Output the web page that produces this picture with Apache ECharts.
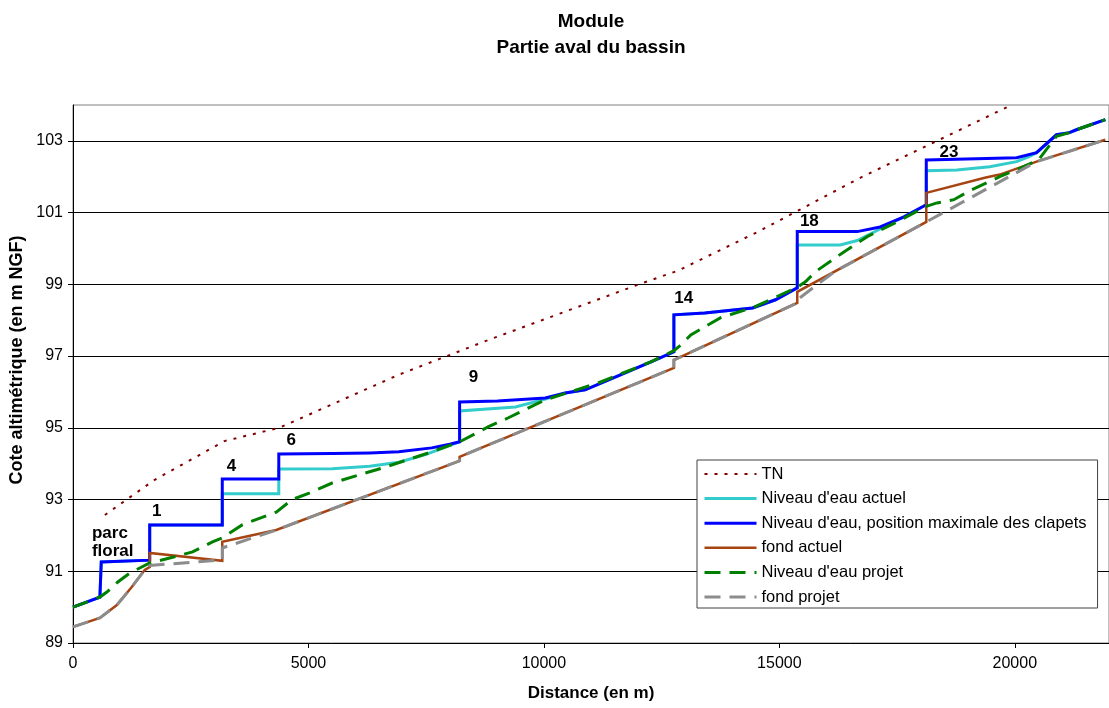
<!DOCTYPE html>
<html>
<head>
<meta charset="utf-8">
<script src="https://cdn.jsdelivr.net/npm/echarts@6/dist/echarts.min.js"></script>
<style>
  html, body { margin: 0; padding: 0; background: #fff; }
  #chart { width: 1109px; height: 708px; }
</style>
</head>
<body>
<div id="chart"></div>
<script>
// Profil en long : distance (m) / cote (m NGF)
const seriesNames = [
  'TN',
  "Niveau d'eau actuel",
  "Niveau d'eau, position maximale des clapets",
  'fond actuel',
  "Niveau d'eau projet",
  'fond projet'
];

const tn = [
  [677, 92.57], [1735, 93.55], [3216, 94.63], [4380, 95.0], [6919, 96.48],
  [8824, 97.45], [11998, 98.99], [12844, 99.38], [14537, 100.46],
  [16716, 101.97], [19930, 104.0]
];

const niveauActuel = [
  [0, 90.0], [571, 90.28], [600, 90.3], [600, 91.26], [1629, 91.31],
  [1629, 92.29], [3170, 92.29], [3170, 93.16], [4370, 93.16], [4370, 93.85],
  [5502, 93.86], [6300, 93.93], [6919, 94.04], [7500, 94.26], [7977, 94.5],
  [8210, 94.61], [8210, 95.47], [9395, 95.58], [10030, 95.8], [10453, 95.97],
  [10876, 96.06], [11638, 96.48], [12273, 96.84], [12760, 97.12],
  [12760, 98.15], [13415, 98.2], [14431, 98.34], [14918, 98.57], [15380, 98.9],
  [15380, 100.1], [16293, 100.1], [16653, 100.22], [17076, 100.5],
  [17351, 100.7], [17647, 100.88], [18120, 101.22], [18120, 102.17],
  [18769, 102.19], [19467, 102.28], [20039, 102.42], [20314, 102.57],
  [20462, 102.67], [20885, 103.17], [21160, 103.23], [21308, 103.31],
  [21922, 103.59]
];

const niveauMax = [
  [0, 90.0], [571, 90.28], [600, 90.3], [600, 91.26], [1629, 91.31],
  [1629, 92.29], [3170, 92.29], [3170, 93.57], [4370, 93.57], [4370, 94.27],
  [5500, 94.28], [6300, 94.3], [6919, 94.33], [7618, 94.44], [8000, 94.54],
  [8210, 94.61], [8210, 95.72], [9015, 95.75], [10030, 95.83],
  [10453, 95.97], [10876, 96.06], [11638, 96.48], [12273, 96.84],
  [12760, 97.12], [12760, 98.15], [13415, 98.2], [14431, 98.34],
  [14918, 98.57], [15380, 98.9], [15380, 100.47], [16653, 100.47],
  [17140, 100.6], [17647, 100.88], [18120, 101.22], [18120, 102.47],
  [20039, 102.53], [20462, 102.67], [20885, 103.17], [21160, 103.23],
  [21308, 103.31], [21922, 103.59]
];

const fondActuel = [
  [0, 89.45], [571, 89.7], [931, 90.06], [1248, 90.56], [1524, 91.04],
  [1629, 91.12], [1629, 91.51], [3170, 91.29], [3170, 91.82], [4317, 92.15],
  [8210, 94.08], [8210, 94.19], [12760, 96.67], [12760, 96.89],
  [15380, 98.48], [15380, 98.79], [18120, 100.74], [18120, 101.55],
  [19362, 101.97], [19679, 102.06], [20462, 102.42], [21922, 103.03]
];

const niveauProjet = [
  [0, 90.0], [571, 90.28], [719, 90.42], [952, 90.7], [1206, 90.95],
  [1629, 91.23], [2053, 91.37], [2539, 91.54], [2962, 91.82], [3170, 91.93],
  [3600, 92.3], [4317, 92.65], [4655, 93.0], [5015, 93.18], [5502, 93.46],
  [6644, 93.91], [7618, 94.33], [8210, 94.61], [8824, 95.03], [9247, 95.28],
  [10030, 95.78], [11151, 96.25], [12273, 96.84], [12760, 97.15],
  [12908, 97.31], [13119, 97.59], [13754, 98.07], [14473, 98.37],
  [15380, 98.92], [15553, 99.07], [15764, 99.35], [16378, 99.91],
  [16865, 100.33], [17499, 100.74], [18093, 101.16], [18346, 101.27],
  [18705, 101.36], [19086, 101.64], [19679, 102.0], [20187, 102.28],
  [20504, 102.47], [20885, 103.13], [21160, 103.23], [21308, 103.31],
  [21922, 103.59]
];

const fondProjet = [
  [0, 89.45], [571, 89.7], [931, 90.06], [1248, 90.56], [1524, 91.04],
  [1629, 91.16], [3170, 91.32], [3170, 91.65], [4317, 92.15],
  [8210, 94.08], [8210, 94.19], [12760, 96.67], [12760, 96.89],
  [15380, 98.48], [15380, 98.57], [16166, 99.35], [18120, 100.74],
  [20462, 102.42], [21922, 103.03]
];

// Numéros des seuils : [distance, cote, texte]
const seuilLabels = [
  [1777, 92.68, '1'], [3364, 93.94, '4'], [4634, 94.66, '6'],
  [8506, 96.42, '9'], [12971, 98.62, '14'], [15637, 100.77, '18'],
  [18600, 102.67, '23']
];
const parcFloral = [[402, 91.82, 'parc\nfloral']];

const FONT = "'Liberation Sans', Arial, sans-serif";

const lineSeries = (name, data, color, width, type) => ({
  name: name,
  type: 'line',
  data: data,
  showSymbol: false,
  symbol: 'none',
  lineStyle: { color: color, width: width, type: type, cap: 'butt', join: 'miter' },
  // no marker: keeps the legend key a plain line
  itemStyle: { color: 'rgba(0,0,0,0)', opacity: 0 },
  emphasis: { disabled: true },
  animation: false
});

const textSeries = (name, data, extraLabel) => ({
  name: name,
  type: 'scatter',
  data: data,
  symbolSize: 0,
  silent: true,
  animation: false,
  itemStyle: { opacity: 1 },
  label: Object.assign({
    show: true, position: 'inside',
    formatter: p => p.value[2],
    fontFamily: FONT, fontSize: 17, fontWeight: 'bold', color: '#000', opacity: 1
  }, extraLabel || {}),
  z: 5
});

const chart = echarts.init(document.getElementById('chart'), null, { renderer: 'canvas' });

chart.setOption({
  backgroundColor: '#ffffff',
  animation: false,
  title: {
    text: 'Module\nPartie aval du bassin',
    left: 586,
    top: 4,
    textAlign: 'center',
    textStyle: { fontFamily: FONT, fontSize: 19, fontWeight: 'bold', color: '#000', lineHeight: 26 }
  },
  grid: {
    left: 73, top: 105, width: 1040, height: 538,
    show: true, borderColor: '#808080', borderWidth: 1, backgroundColor: 'transparent'
  },
  graphic: [{
    type: 'text',
    x: 17, y: 360,
    rotation: Math.PI / 2,
    style: {
      text: 'Cote altimétrique (en m NGF)',
      font: "bold 18px 'Liberation Sans', Arial, sans-serif",
      fill: '#000', align: 'center', verticalAlign: 'middle'
    }
  }],
  xAxis: {
    type: 'value', min: 0, max: 22000, interval: 5000,
    name: 'Distance (en m)', nameLocation: 'middle', nameGap: 42,
    nameTextStyle: { fontFamily: FONT, fontSize: 17, fontWeight: 'bold', color: '#000' },
    axisLine: { show: true, onZero: false, lineStyle: { color: '#000', width: 1 } },
    axisTick: { show: true, inside: false, length: 5, lineStyle: { color: '#000' } },
    axisLabel: {
      fontFamily: FONT, fontSize: 16, color: '#000', margin: 13, showMaxLabel: false,
      formatter: v => String(v)
    },
    splitLine: { show: false }
  },
  yAxis: {
    type: 'value', min: 89, max: 104, interval: 2,
    axisLine: { show: true, onZero: false, lineStyle: { color: '#000', width: 1 } },
    axisTick: { show: true, inside: false, length: 5, lineStyle: { color: '#000' } },
    axisLabel: {
      fontFamily: FONT, fontSize: 16, color: '#000', margin: 10, showMaxLabel: false,
      formatter: v => String(v)
    },
    splitLine: { show: true, showMinLine: false, showMaxLine: false, lineStyle: { color: '#000', width: 1 } }
  },
  legend: {
    data: seriesNames,
    orient: 'vertical',
    left: 697, top: 460,
    padding: [5, 11, 2, 6],
    itemWidth: 52, itemHeight: 14, itemGap: 6.6,
    backgroundColor: '#ffffff',
    borderColor: '#404040', borderWidth: 1,
    selectedMode: false,
    itemStyle: { opacity: 0 },
    lineStyle: { width: 'inherit', type: 'inherit' },
    textStyle: { fontFamily: FONT, fontSize: 16.5, color: '#000', lineHeight: 18 },
    z: 10
  },
  series: [
    lineSeries(seriesNames[0], tn, '#800000', 2, [3, 7]),
    lineSeries(seriesNames[1], niveauActuel, '#33cccc', 3, 'solid'),
    lineSeries(seriesNames[2], niveauMax, '#0000ff', 3, 'solid'),
    lineSeries(seriesNames[3], fondActuel, '#a64412', 2.5, 'solid'),
    lineSeries(seriesNames[4], niveauProjet, '#008000', 3, [16, 9]),
    lineSeries(seriesNames[5], fondProjet, '#8c8c8c', 3, [16, 9]),
    textSeries('seuils', seuilLabels),
    textSeries('parc', parcFloral, { align: 'left', lineHeight: 18 })
  ]
});
</script>
</body>
</html>
